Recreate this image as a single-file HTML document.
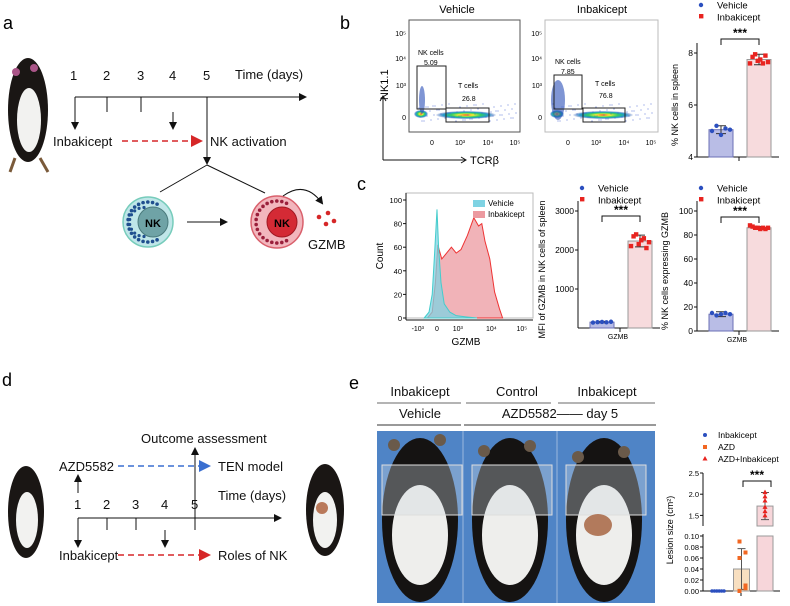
<!DOCTYPE html>
<html><head><meta charset="utf-8"><style>
body{margin:0;background:#fff}
svg{display:block;font-family:"Liberation Sans",sans-serif}
</style></head><body>
<svg id="fig" width="790" height="606" viewBox="0 0 790 606">
<defs>
<radialGradient id="dens" cx="50%" cy="50%" r="50%"><stop offset="0" stop-color="#e33"/><stop offset="0.25" stop-color="#ee3"/><stop offset="0.5" stop-color="#3c6"/><stop offset="0.75" stop-color="#29c"/><stop offset="1" stop-color="#24a" stop-opacity="0.1"/></radialGradient>
<marker id="ah" markerWidth="8" markerHeight="8" refX="6" refY="4" orient="auto"><path d="M0,0L8,4L0,8z" fill="#111"/></marker>
<marker id="ahr" markerWidth="8" markerHeight="8" refX="6" refY="4" orient="auto"><path d="M0,0L8,4L0,8z" fill="#d62728"/></marker>
<marker id="ahb" markerWidth="8" markerHeight="8" refX="6" refY="4" orient="auto"><path d="M0,0L8,4L0,8z" fill="#3a6fd0"/></marker>
</defs>

<!-- PANEL A -->
<g>
<text x="3" y="29" font-size="18">a</text>
<g>
<ellipse cx="28" cy="110" rx="20" ry="52" fill="#1a1614"/>
<ellipse cx="29" cy="120" rx="12" ry="32" fill="#f2f2f0"/>
<circle cx="16" cy="72" r="4" fill="#a58"/><circle cx="34" cy="68" r="4" fill="#a58"/>
<path d="M15,158L10,172M40,158L48,172" stroke="#7a5a3a" stroke-width="3"/>
</g>
<g stroke="#111" stroke-width="1">
<line x1="75" y1="97" x2="305" y2="97" marker-end="url(#ah)"/>
<line x1="107" y1="97" x2="107" y2="112"/><line x1="141" y1="97" x2="141" y2="112"/>
<line x1="75" y1="97" x2="75" y2="128" marker-end="url(#ah)"/>
<line x1="173" y1="112" x2="173" y2="128" marker-end="url(#ah)"/>
<line x1="207" y1="97" x2="207" y2="163" marker-end="url(#ah)"/>
<line x1="207" y1="165" x2="160" y2="192"/><line x1="207" y1="165" x2="265" y2="193"/>
<line x1="187" y1="222" x2="226" y2="222" marker-end="url(#ah)"/>
</g>
<g font-size="13" fill="#111">
<text x="70" y="80">1</text>
<text x="103" y="80">2</text>
<text x="137" y="80">3</text>
<text x="169" y="80">4</text>
<text x="203" y="80">5</text>
<text x="235" y="79">Time (days)</text>
<text x="53" y="146">Inbakicept</text>
<text x="210" y="146">NK activation</text>
<text x="308" y="249">GZMB</text>
</g>
<line x1="122" y1="141" x2="200" y2="141" stroke="#d62728" stroke-width="1.5" stroke-dasharray="6,4" marker-end="url(#ahr)"/>
<g>
<circle cx="148" cy="222" r="25" fill="#bfe6e8" stroke="#7cb" stroke-width="1.5"/>
<circle cx="153" cy="222" r="15" fill="#6fa3a6" stroke="#4a7a7c"/>
<g fill="#1f4f8f" id="bdots"></g>
<text x="153" y="227" font-size="11" font-weight="bold" text-anchor="middle">NK</text>
</g>
<g>
<circle cx="277" cy="222" r="26" fill="#f2b6bd" stroke="#d9606c" stroke-width="1.5"/>
<circle cx="282" cy="222" r="15" fill="#d42a35" stroke="#a01822"/>
<g fill="#9a1e3a" id="rdots"></g>
<text x="282" y="227" font-size="11" font-weight="bold" text-anchor="middle">NK</text>
</g>
<path d="M283,196 Q305,180 322,203" fill="none" stroke="#111" marker-end="url(#ah)"/>
<g fill="#d62728"><circle cx="319" cy="217" r="2.3"/><circle cx="328" cy="213" r="2.3"/><circle cx="326" cy="224" r="2.3"/><circle cx="334" cy="221" r="2.3"/></g>
</g>

<!-- PANEL B FLOW -->
<text x="340" y="29" font-size="18">b</text>
<text x="457" y="13" font-size="11" text-anchor="middle">Vehicle</text>
<text x="602" y="13" font-size="11" text-anchor="middle">Inbakicept</text>
<text transform="translate(388,100) rotate(-90)" font-size="11">NK1.1</text>
<path d="M383,160 L383,96 M380,101 L383,96 L386,101 M383,160 L466,160 M461,157 L466,160 L461,163" fill="none" stroke="#111"/>
<text x="470" y="164" font-size="11">TCRβ</text>
<g id="flowplots"></g>

<!-- PANEL B BAR -->
<g id="barB"></g>
<!-- PANEL C -->
<text x="357" y="190" font-size="18">c</text>
<g id="hist"></g>
<g id="barC1"></g>
<g id="barC2"></g>

<!-- PANEL D -->
<g>
<text x="2" y="386" font-size="18">d</text>
<g>
<ellipse cx="26" cy="512" rx="18" ry="46" fill="#1a1614"/><ellipse cx="27" cy="520" rx="11" ry="28" fill="#f2f2f0"/>
</g>
<g>
<ellipse cx="325" cy="510" rx="19" ry="46" fill="#1a1614"/><ellipse cx="325" cy="520" rx="12" ry="28" fill="#f2f2f0"/><circle cx="322" cy="508" r="6" fill="#b9795a"/>
</g>
<g stroke="#111">
<line x1="78" y1="518" x2="280" y2="518" marker-end="url(#ah)"/>
<line x1="107" y1="518" x2="107" y2="530"/><line x1="136" y1="518" x2="136" y2="530"/>
<line x1="78" y1="518" x2="78" y2="546" marker-end="url(#ah)"/>
<line x1="165" y1="530" x2="165" y2="546" marker-end="url(#ah)"/>
<line x1="78" y1="493" x2="78" y2="476" marker-end="url(#ah)"/>
<line x1="195" y1="530" x2="195" y2="449" marker-end="url(#ah)"/>
</g>
<line x1="118" y1="466" x2="208" y2="466" stroke="#3a6fd0" stroke-width="1.5" stroke-dasharray="6,4" marker-end="url(#ahb)"/>
<line x1="118" y1="555" x2="208" y2="555" stroke="#d62728" stroke-width="1.5" stroke-dasharray="6,4" marker-end="url(#ahr)"/>
<g font-size="13" fill="#111" font-family="Liberation Sans Narrow, Liberation Sans, sans-serif">
<text x="141" y="443">Outcome assessment</text>
<text x="59" y="471">AZD5582</text>
<text x="218" y="471">TEN model</text>
<text x="218" y="500">Time (days)</text>
<text x="74" y="509">1</text><text x="103" y="509">2</text><text x="132" y="509">3</text><text x="161" y="509">4</text><text x="191" y="509">5</text>
<text x="59" y="560">Inbakicept</text>
<text x="218" y="560">Roles of NK</text>
</g>
</g>

<!-- PANEL E -->
<g>
<text x="349" y="389" font-size="18">e</text>
<g font-size="13" fill="#111" text-anchor="middle">
<text x="420" y="396">Inbakicept</text>
<text x="517" y="396">Control</text>
<text x="607" y="396">Inbakicept</text>
<text x="420" y="418">Vehicle</text>
<text x="560" y="418">AZD5582—— day 5</text>
</g>
<g stroke="#888" stroke-width="1.2">
<line x1="377" y1="403" x2="461" y2="403"/><line x1="466" y1="403" x2="551" y2="403"/><line x1="558" y1="403" x2="655" y2="403"/>
</g>
<g stroke="#333" stroke-width="1">
<line x1="377" y1="425" x2="461" y2="425"/><line x1="464" y1="425" x2="656" y2="425"/>
</g>
<g>
<rect x="377" y="431" width="278" height="172" fill="#4f84c6"/>
<line x1="463" y1="431" x2="463" y2="603" stroke="#9bb8dd"/><line x1="557" y1="431" x2="557" y2="603" stroke="#9bb8dd"/>
<g id="photoMice"></g>
</g>
<g id="barE"></g>
</g>
</svg>
<script>
const NS="http://www.w3.org/2000/svg";
function mk(p,tag,a,txt){const e=document.createElementNS(NS,tag);for(const k in a)e.setAttribute(k,a[k]);if(txt!==undefined)e.textContent=txt;p.appendChild(e);return e;}
(function(){const b=document.getElementById('bdots'),r=document.getElementById('rdots');
for(let i=0;i<18;i++){const t=Math.PI*0.35+i*(Math.PI*1.3/17);mk(b,'circle',{cx:148+20*Math.cos(t),cy:222-20*Math.sin(t),r:1.8});mk(r,'circle',{cx:277+21*Math.cos(t),cy:222-21*Math.sin(t),r:1.8});}
for(let i=0;i<10;i++){const t=Math.PI*0.5+i*(Math.PI/9);mk(b,'circle',{cx:148+14.5*Math.cos(t)-4,cy:222-14.5*Math.sin(t),r:1.6});}})();

const flowTicksY=["10⁵","10⁴","10³","0"];
const flowTicksX=["0","10³","10⁴","10⁵"];
const flowNK=[["NK cells","5.09"],["NK cells","7.85"]];
const flowT=[["T cells","26.8"],["T cells","76.8"]];
(function(){const g=document.getElementById('flowplots');
const boxes=[{x:409,w:111,nk:[417,66,29,43],t:[446,108,43,14]},{x:545,w:113,nk:[554,75,28,34],t:[583,108,42,14]}];
boxes.forEach((b,i)=>{
const s=mk(g,'g',{});
mk(s,'rect',{x:b.x,y:20,width:b.w,height:112,fill:'#fff',stroke:i?'#bbb':'#555'});
mk(s,'ellipse',{cx:b.t[0]+20,cy:115,rx:30,ry:4,fill:'url(#dens)'});
mk(s,'ellipse',{cx:b.x+12,cy:114,rx:7,ry:4,fill:'url(#dens)'});
mk(s,'ellipse',{cx:b.x+13,cy:100,rx:3+i*4,ry:14+i*6,fill:'#2a4fb8',opacity:0.6});
for(let k=0;k<70;k++){const rx=b.x+8+(k*37%100);const ry=104+(k*13%18);mk(s,'circle',{cx:rx,cy:ry,r:0.5,fill:'#3355cc'});}
mk(s,'rect',{x:b.nk[0],y:b.nk[1],width:b.nk[2],height:b.nk[3],fill:'none',stroke:'#222'});
mk(s,'rect',{x:b.t[0],y:b.t[1],width:b.t[2],height:b.t[3],fill:'none',stroke:'#222'});
mk(s,'text',{x:b.nk[0]+1,y:b.nk[1]-11,'font-size':7},flowNK[i][0]);
mk(s,'text',{x:b.nk[0]+7,y:b.nk[1]-1,'font-size':7},flowNK[i][1]);
mk(s,'text',{x:b.t[0]+12,y:88-i*2,'font-size':7},flowT[i][0]);
mk(s,'text',{x:b.t[0]+16,y:101-i*3,'font-size':7},flowT[i][1]);
const yy=[33,58,85,117];flowTicksY.forEach((t,j)=>mk(s,'text',{x:b.x-3,y:yy[j]+3,'font-size':7,'text-anchor':'end'},t));
const xx=[23,51,79,106];flowTicksX.forEach((t,j)=>mk(s,'text',{x:b.x+xx[j],y:145,'font-size':7,'text-anchor':'middle'},t));
});})();

function barChart(o){
const g=document.getElementById(o.id);
const y=v=>o.y0-(v-o.vmin)*(o.y0-o.y1)/(o.vmax-o.vmin);
mk(g,'line',{x1:o.ax,y1:o.y1-10,x2:o.ax,y2:o.y0,stroke:'#111'});
mk(g,'line',{x1:o.ax,y1:o.y0,x2:o.ax+82,y2:o.y0,stroke:'#111'});
mk(g,'line',{x1:o.ax+42,y1:o.y0,x2:o.ax+42,y2:o.y0+4,stroke:'#111'});
o.ticks.forEach((t,i)=>{const yy=y(o.tickVals[i]);mk(g,'line',{x1:o.ax-3,y1:yy,x2:o.ax,y2:yy,stroke:'#111'});const tx=mk(g,'text',{x:o.ax-4,y:yy+3,'font-size':8.5,'text-anchor':'end'},t);});
const cols=[['#b9bde6','#6b70b5','#2b4fbf'],['#f7dbdd','#999','#e8231f']];
o.means.forEach((m,i)=>{const bx=o.ax+12+i*38;
const r=mk(g,'rect',{x:bx,y:y(m),width:24,height:o.y0-y(m),fill:cols[i][0],stroke:cols[i][1]});

const sd=o.sds[i];mk(g,'path',{d:`M${bx+12},${y(m-sd)}V${y(m+sd)}M${bx+7},${y(m+sd)}h10M${bx+7},${y(m-sd)}h10`,stroke:'#333',fill:'none'});
o.points[i].forEach((p,k)=>{const px=bx+3+k*(18/(o.points[i].length-1));
if(i==0){const c=mk(g,'circle',{cx:px,cy:y(p),r:2.2,fill:cols[0][2]});}
else{const c=mk(g,'rect',{x:px-2.2,y:y(p)-2.2,width:4.4,height:4.4,fill:cols[1][2]});}});
});
const b1=o.ax+24,b2=o.ax+62,by=o.bry;
mk(g,'path',{d:`M${b1},${by+6}V${by}H${b2}V${by+6}`,stroke:'#111',fill:'none'});
mk(g,'text',{x:(b1+b2)/2,y:by-2,'font-size':12,'text-anchor':'middle','font-weight':'bold'},'***');
mk(g,'circle',{cx:o.ax+4,cy:o.ly,r:2.2,fill:'#2b4fbf'});
mk(g,'rect',{x:o.ax+2,y:o.ly+9,width:4.4,height:4.4,fill:'#e8231f'});
mk(g,'text',{x:o.ax+20,y:o.ly+3.5,'font-size':9.5},'Vehicle');
mk(g,'text',{x:o.ax+20,y:o.ly+15.5,'font-size':9.5},'Inbakicept');
const yl=mk(g,'text',{transform:`translate(${o.ylx},${(o.y0+o.y1)/2}) rotate(-90)`,'font-size':9,'text-anchor':'middle'},o.ylabel);

if(o.xlabel)mk(g,'text',{x:o.ax+40,y:o.y0+11,'font-size':7,'text-anchor':'middle'},o.xlabel);
}
const bGroups=["vehicle","inbakicept"];
const bTicks=["4","6","8"], bTickVals=[4,6,8];
const bMeans=[5.05,7.75], bSds=[0.15,0.2];
const bVehicle=[5.0,5.2,4.85,5.1,5.05];
const bInbak=[7.6,7.85,7.95,7.7,7.75,7.6,7.9,7.65];
barChart({id:'barB',name:'nk-percent-bar-chart',ax:697,y0:157,y1:53,vmin:4,vmax:8,ticks:bTicks,tickVals:bTickVals,means:bMeans,sds:bSds,points:[bVehicle,bInbak],groups:bGroups,bry:39,ly:5,ylx:678,ylabel:"% NK cells in spleen"});
const c1Ticks=["1000","2000","3000"], c1TickVals=[1000,2000,3000];
const c1Means=[150,2230], c1Sds=[20,150];
const c1Vehicle=[140,150,155,145,160];
const c1Inbak=[2100,2350,2400,2150,2250,2300,2050,2200];
barChart({id:'barC1',name:'gzmb-mfi-bar-chart',ax:578,y0:328,y1:211,vmin:0,vmax:3000,ticks:c1Ticks,tickVals:c1TickVals,means:c1Means,sds:c1Sds,points:[c1Vehicle,c1Inbak],groups:bGroups,bry:216,ly:188,ylx:545,ylabel:"MFI of GZMB in NK cells of spleen",xlabel:"GZMB"});
const c2Ticks=["0","20","40","60","80","100"], c2TickVals=[0,20,40,60,80,100];
const c2Means=[14,86], c2Sds=[2,1];
const c2Vehicle=[15,13,14,15,14];
const c2Inbak=[88,87,86,86,85,86,85,86];
barChart({id:'barC2',name:'gzmb-percent-bar-chart',ax:697,y0:331,y1:211,vmin:0,vmax:100,ticks:c2Ticks,tickVals:c2TickVals,means:c2Means,sds:c2Sds,points:[c2Vehicle,c2Inbak],groups:bGroups,bry:217,ly:188,ylx:668,ylabel:"% NK cells expressing GZMB",xlabel:"GZMB"});

const histXVehicle=[-0.8,-0.5,-0.3,-0.15,0,0.1,0.25,0.45,0.8,1.2,1.8,2.5];
const histYVehicle=[0,5,20,55,92,60,30,12,5,2,1,0];
const histXInbak=[-0.6,-0.3,-0.1,0.05,0.3,0.6,0.9,1.2,1.5,1.9,2.3,2.6,2.8,3.0,3.3,3.6,3.9,4.1];
const histYInbak=[0,5,30,62,50,55,60,55,58,70,85,78,80,65,50,22,8,0];
const histTicksY=["0","20","40","60","80","100"];
(function(){const g=document.getElementById('hist');
const X=v=>437+v*16, Y=v=>318-v*1.18;
mk(g,'rect',{x:406,y:193,width:127,height:125,fill:'none',stroke:'#bbb'});
mk(g,'line',{x1:406,y1:193,x2:406,y2:320,stroke:'#111'});
mk(g,'line',{x1:406,y1:320,x2:533,y2:320,stroke:'#111'});
const area=(xs,ys,f,s)=>{let d=`M${X(xs[0])},${Y(0)}`;xs.forEach((x,i)=>d+=`L${X(x)},${Y(ys[i])}`);d+=`L${X(xs[xs.length-1])},${Y(0)}Z`;return mk(g,'path',{d,fill:f,stroke:s,'fill-opacity':0.75});};
const a1=area(histXInbak,histYInbak,'#ec9aa0','#e33');
const a2=area(histXVehicle,histYVehicle,'#7fd3e3','#4cc');
histTicksY.forEach((t,i)=>{const yy=Y(i*20);mk(g,'line',{x1:403,y1:yy,x2:406,y2:yy,stroke:'#111'});mk(g,'text',{x:402,y:yy+3,'font-size':7.5,'text-anchor':'end'},t);});
[["-10³",-1.2],["0",0],["10³",1.3],["10⁴",3.4],["10⁵",5.3]].forEach(t=>mk(g,'text',{x:X(t[1]),y:331,'font-size':7,'text-anchor':'middle'},t[0]));
mk(g,'text',{x:466,y:345,'font-size':10,'text-anchor':'middle'},'GZMB');
mk(g,'text',{transform:'translate(383,256) rotate(-90)','font-size':10,'text-anchor':'middle'},'Count');
mk(g,'rect',{x:473,y:200,width:12,height:7,fill:'#7fd3e3'});mk(g,'text',{x:488,y:206,'font-size':8},'Vehicle');
mk(g,'rect',{x:473,y:211,width:12,height:7,fill:'#ec9aa0'});mk(g,'text',{x:488,y:217,'font-size':8},'Inbakicept');
})();

(function(){const g=document.getElementById('photoMice');
[420,510,604].forEach((cx,i)=>{mk(g,'ellipse',{cx:cx,cy:520,rx:38,ry:82,fill:'#151312'});
mk(g,'ellipse',{cx:cx,cy:535,rx:28,ry:50,fill:'#eeeeec'});
mk(g,'circle',{cx:cx-26,cy:445+i*6,r:6,fill:'#6a5a4a'});mk(g,'circle',{cx:cx+20,cy:440+i*6,r:6,fill:'#6a5a4a'});
mk(g,'rect',{x:cx-38,y:465,width:80,height:50,fill:'#cfd8e0','fill-opacity':0.35,stroke:'#ddd'});
if(i==2)mk(g,'ellipse',{cx:cx-6,cy:525,rx:14,ry:11,fill:'#b27a5c'});});})();

const eGroups=["inbakicept","azd","azd-inbakicept"];
const eMeans=[0,0.04,1.72], eSds=[0,0.037,0.32];
const ePtsInb=[0,0,0,0,0,0];
const ePtsAzd=[0.09,0.07,0.06,0.01,0.0,0.005];
const ePtsBoth=[2.05,1.95,1.85,1.7,1.6,1.5];
const eTicksLow=["0.00","0.02","0.04","0.06","0.08","0.10"], eTickLowVals=[0,0.02,0.04,0.06,0.08,0.10];
const eTicksHigh=["1.5","2.0","2.5"], eTickHighVals=[1.5,2.0,2.5];
(function(){const g=document.getElementById('barE');
const ax=703;
const Y=v=>v<=0.1?591-v*550:526-(v-1.25)*(526-473)/1.25;
mk(g,'line',{x1:ax,y1:473,x2:ax,y2:526,stroke:'#111'});mk(g,'line',{x1:ax,y1:534,x2:ax,y2:591,stroke:'#111'});
mk(g,'line',{x1:ax,y1:591,x2:780,y2:591,stroke:'#111'});mk(g,'line',{x1:741,y1:591,x2:741,y2:596,stroke:'#111'});
eTicksLow.forEach((t,i)=>{const y=Y(eTickLowVals[i]);mk(g,'line',{x1:ax-3,y1:y,x2:ax,y2:y,stroke:'#111'});mk(g,'text',{x:ax-4,y:y+3,'font-size':7.5,'text-anchor':'end'},t);});
eTicksHigh.forEach((t,i)=>{const y=Y(eTickHighVals[i]);mk(g,'line',{x1:ax-3,y1:y,x2:ax,y2:y,stroke:'#111'});mk(g,'text',{x:ax-4,y:y+3,'font-size':7.5,'text-anchor':'end'},t);});
const fills=['#ccd','#f8dfc0','#f7d6da'],pc=['#2b4fbf','#f26722','#e8231f'];
const pts=[ePtsInb,ePtsAzd,ePtsBoth];
eMeans.forEach((m,i)=>{const bx=710+i*23.5;
if(m>0.1){const r=mk(g,'rect',{x:bx,y:Y(m),width:16,height:526-Y(m),fill:fills[i],stroke:'#999'});
mk(g,'rect',{x:bx,y:536,width:16,height:55,fill:fills[i],stroke:'#999'});}
else{const r=mk(g,'rect',{x:bx,y:Y(m),width:16,height:591-Y(m),fill:fills[i],stroke:'#999'});}
if(eSds[i]>0)mk(g,'path',{d:`M${bx+8},${Y(m-eSds[i])}V${Y(m+eSds[i])}M${bx+4},${Y(m+eSds[i])}h8M${bx+4},${Y(m-eSds[i])}h8`,stroke:'#555',fill:'none'});
pts[i].forEach((p,k)=>{const px=bx+2+k*2.4;let c;
if(i==0)c=mk(g,'circle',{cx:px,cy:Y(p),r:1.8,fill:pc[0]});
else if(i==1)c=mk(g,'rect',{x:bx+4+(k%2)*6,y:Y(p)-2,width:4,height:4,fill:pc[1]});
else c=mk(g,'path',{d:`M${bx+8},${Y(p)-2.5}l2.5,4.5h-5z`,fill:pc[2]});
});});
mk(g,'path',{d:'M743,487V481H771V487',stroke:'#111',fill:'none'});
mk(g,'text',{x:757,y:479,'font-size':12,'text-anchor':'middle','font-weight':'bold'},'***');
mk(g,'text',{transform:'translate(673,530) rotate(-90)','font-size':9,'text-anchor':'middle'},'Lesion size (cm²)');
mk(g,'circle',{cx:705,cy:435,r:2,fill:pc[0]});mk(g,'rect',{x:703,y:445,width:4,height:4,fill:pc[1]});mk(g,'path',{d:'M705,456l2.5,4.5h-5z',fill:pc[2]});
mk(g,'text',{x:718,y:438,'font-size':8.5},'Inbakicept');mk(g,'text',{x:718,y:450,'font-size':8.5},'AZD');mk(g,'text',{x:718,y:462,'font-size':8.5},'AZD+Inbakicept');
})();
</script>
</body></html>
